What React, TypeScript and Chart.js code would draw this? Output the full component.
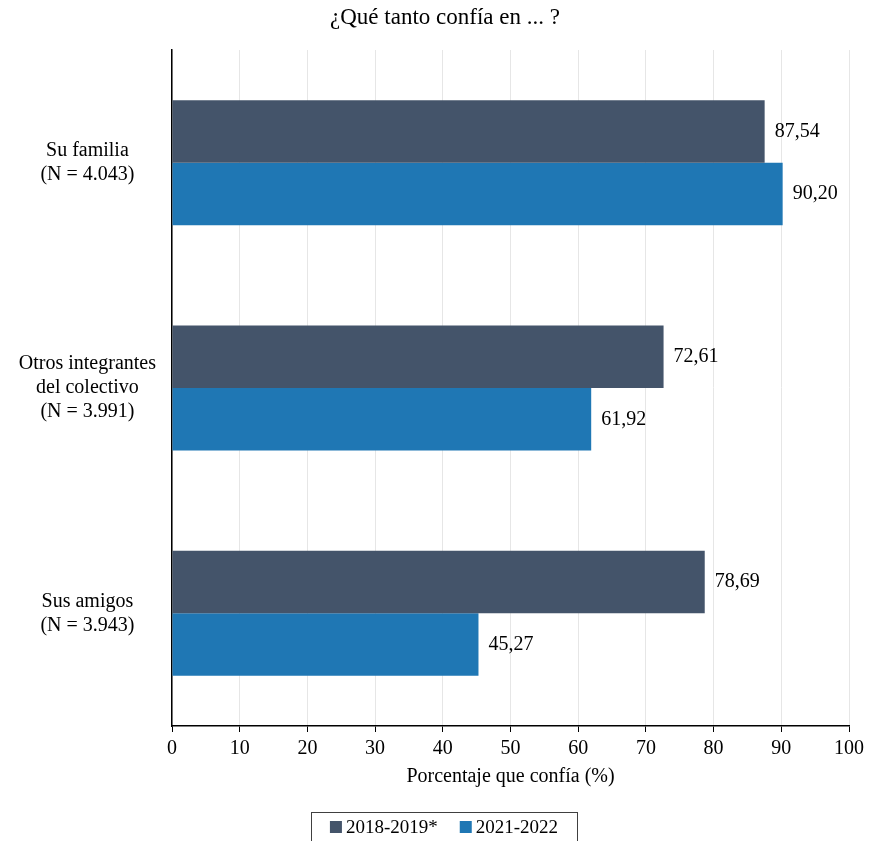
import React, { useEffect, useRef } from "react";
import { Chart, registerables } from "chart.js";

Chart.register(...registerables);

const categories: string[][] = [
  ["Su familia", "(N = 4.043)"],
  ["Otros integrantes", "del colectivo", "(N = 3.991)"],
  ["Sus amigos", "(N = 3.943)"],
];
const seriesNames = ["2018-2019*", "2021-2022"];
const values2018 = [87.54, 72.61, 78.69];
const values2021 = [90.2, 61.92, 45.27];
const colors = ["#44546A", "#1F77B4"];
const title = "¿Qué tanto confía en ... ?";
const xTitle = "Porcentaje que confía (%)";

const FONT = "'Liberation Serif', 'Times New Roman', serif";

const fmt = (v: number) => v.toFixed(2).replace(".", ",");

export default function App() {
  const ref = useRef<HTMLCanvasElement | null>(null);

  useEffect(() => {
    document.body.style.margin = "0";
    const canvas = ref.current;
    if (!canvas) return;

    const extras = {
      id: "extras",
      afterDatasetsDraw(chart: any) {
        const ctx = chart.ctx;
        ctx.save();
        ctx.fillStyle = "#000";
        ctx.font = `20px ${FONT}`;
        ctx.textAlign = "left";
        ctx.textBaseline = "middle";
        chart.data.datasets.forEach((ds: any, i: number) => {
          const meta = chart.getDatasetMeta(i);
          meta.data.forEach((el: any, j: number) => {
            ctx.fillText(fmt(ds.data[j]), el.x + 10, el.y);
          });
        });
        ctx.restore();
      },
      afterDraw(chart: any) {
        const ctx = chart.ctx;
        const area = chart.chartArea;
        ctx.save();
        ctx.fillStyle = "#000";
        ctx.textBaseline = "middle";
        ctx.textAlign = "center";
        // title
        ctx.font = `23px ${FONT}`;
        ctx.fillText(title, 445, 18);
        // x axis title
        ctx.font = `20px ${FONT}`;
        ctx.fillText(xTitle, (area.left + area.right) / 2, 777);
        // legend
        ctx.font = `19px ${FONT}`;
        const sq = 12;
        const gapSq = 4;
        const gapItems = 22;
        const widths = seriesNames.map((n) => ctx.measureText(n).width);
        const total =
          widths.reduce((a, b) => a + b, 0) + seriesNames.length * (sq + gapSq) + gapItems;
        const cx = 444;
        let x = cx - total / 2;
        const ly = 827;
        ctx.strokeStyle = "#404040";
        ctx.lineWidth = 1;
        ctx.strokeRect(311.5, 812.5, 266, 40);
        ctx.textAlign = "left";
        seriesNames.forEach((n, i) => {
          ctx.fillStyle = colors[i];
          ctx.fillRect(x, ly - sq / 2, sq, sq);
          x += sq + gapSq;
          ctx.fillStyle = "#000";
          ctx.fillText(n, x, ly + 1);
          x += widths[i] + gapItems;
        });
        ctx.restore();
      },
    };

    const chart = new Chart(canvas, {
      type: "bar",
      data: {
        labels: categories,
        datasets: [
          {
            label: seriesNames[0],
            data: values2018,
            backgroundColor: colors[0],
            categoryPercentage: 0.555,
            barPercentage: 1,
          },
          {
            label: seriesNames[1],
            data: values2021,
            backgroundColor: colors[1],
            categoryPercentage: 0.555,
            barPercentage: 1,
          },
        ],
      },
      options: {
        indexAxis: "y",
        responsive: false,
        animation: false,
        layout: { padding: { top: 50, right: 18, bottom: 45, left: 0 } },
        plugins: {
          legend: { display: false },
          title: { display: false },
          tooltip: { enabled: false },
        },
        scales: {
          x: {
            min: 0,
            max: 100,
            ticks: {
              stepSize: 10,
              color: "#000",
              font: { family: FONT, size: 20 },
              padding: 5,
            },
            grid: {
              color: "#E6E6E6",
              lineWidth: 1,
              tickColor: "#000",
              tickLength: 6,
              drawTicks: true,
            },
            border: { display: true, color: "#000", width: 1.5 },
            afterFit: (scale: any) => {
              scale.height = 70;
            },
          },
          y: {
            ticks: {
              color: "#000",
              font: { family: FONT, size: 20, lineHeight: 1.2 },
              crossAlign: "center",
              padding: 16,
            },
            grid: { display: false, drawTicks: false },
            border: { display: true, color: "#000", width: 1.5 },
            afterFit: (scale: any) => {
              scale.width = 172;
            },
          },
        },
      },
      plugins: [extras],
    });

    return () => chart.destroy();
  }, []);

  return (
    <div style={{ width: 869, height: 841 }}>
      <canvas ref={ref} width={869} height={841} />
    </div>
  );
}
